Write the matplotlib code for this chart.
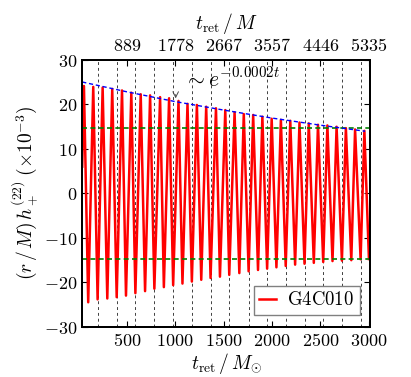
import matplotlib
matplotlib.use('Agg')
import matplotlib.pyplot as plt
from matplotlib.ticker import FixedLocator, FuncFormatter

plt.rcParams['mathtext.fontset'] = 'cm'
plt.rcParams['font.family'] = 'serif'
plt.rcParams['font.serif'] = ['DejaVu Serif']

# ---- data ----
start_t, start_h = 40, 6.0
peak_t = [58, 154, 251, 350, 451, 547, 644, 741, 844, 937, 1034, 1127, 1224, 1320,
          1421, 1517, 1613, 1708, 1805, 1900, 1996, 2091, 2188, 2283, 2379, 2474,
          2571, 2666, 2762, 2857, 2953]
peak_h = [24.1, 23.9, 23.75, 23.45, 23.1, 22.6, 22.25, 22.0, 21.6, 21.35, 20.75, 20.1,
          19.85, 19.45, 19.1, 18.7, 18.2, 17.8, 17.6, 17.2, 16.75, 16.5, 16.3, 15.9,
          15.7, 15.4, 15.25, 14.95, 14.65, 14.35, 14.05]
trough_t = [102, 199, 299, 396, 492, 589, 689, 785, 883, 979, 1075, 1172, 1269, 1365,
            1462, 1558, 1662, 1758, 1855, 1949, 2045, 2141, 2238, 2335, 2431, 2528,
            2624, 2721, 2818, 2914, 3000]
trough_h = [-24.45, -23.8, -23.6, -23.3, -22.95, -22.4, -21.95, -21.4, -21.05, -20.6,
            -20.25, -19.8, -19.4, -19.0, -18.7, -18.3, -17.9, -17.5, -17.2, -16.9, -16.6,
            -16.3, -16.0, -15.8, -15.6, -15.4, -15.2, -15.1, -15.0, -14.8, -14.75]
fit_t = [40, 500, 1000, 1500, 2000, 2500, 2960]
fit_h = [25.0, 22.8, 20.6, 18.7, 16.9, 15.3, 13.95]
band_h = [14.75, -14.75]
vline_t = [199, 396, 589, 785, 979, 1172, 1365, 1558, 1758, 1949, 2141, 2335, 2528,
           2721, 2914]
bottom_ticks = [500, 1000, 1500, 2000, 2500, 3000]
top_labels = ['889', '1778', '2667', '3557', '4446', '5335']
y_ticks = [-30, -20, -10, 0, 10, 20, 30]
legend_label = 'G4C010'
annot_text = r'$\sim e^{-0.0002t}$'
arrow_t = 1005

# build the wave from alternating extrema
wt = [start_t]
wh = [start_h]
for i in range(len(peak_t)):
    wt.append(peak_t[i]); wh.append(peak_h[i])
    if i < len(trough_t):
        wt.append(trough_t[i]); wh.append(trough_h[i])

fig = plt.figure(figsize=(4.11, 3.77), dpi=100)
ax = fig.add_axes([0.2, 0.1326, 0.7, 0.709])

for v in vline_t:
    ax.axvline(v, color='0.25', lw=0.7, ls=(0, (3, 3)), zorder=1)
ax.plot(wt, wh, color='red', lw=1.8, zorder=3, label=legend_label)
for b in band_h:
    ax.axhline(b, color='green', lw=1.2, ls=(0, (3, 2)), zorder=4)
ax.plot(fit_t, fit_h, color='blue', lw=1.0, ls=(0, (3, 2)), zorder=4)

ax.annotate('', xy=(arrow_t, 20.7), xytext=(arrow_t, 22.8),
            arrowprops=dict(arrowstyle='->', color='0.3', lw=0.7), zorder=5)
ax.text(1090, 24.0, annot_text, fontsize=15.5, ha='left', va='baseline')

ax.set_xlim(40, 3010)
ax.set_ylim(-30, 30)
ax.xaxis.set_major_locator(FixedLocator(bottom_ticks))
ax.yaxis.set_major_locator(FixedLocator(y_ticks))
fmt = FuncFormatter(lambda v, p: r'$%d$' % v)
ax.xaxis.set_major_formatter(fmt)
ax.yaxis.set_major_formatter(fmt)
ax.tick_params(direction='in', length=4, width=0.8, labelsize=13, right=True, top=False)
for s in ax.spines.values():
    s.set_linewidth(1.4)

ax2 = ax.twiny()
ax2.set_xlim(ax.get_xlim())
ax2.xaxis.set_major_locator(FixedLocator(bottom_ticks))
ax2.set_xticklabels([r'$%s$' % s for s in top_labels])
ax2.tick_params(direction='in', length=4, width=0.8, labelsize=13)
for s in ax2.spines.values():
    s.set_linewidth(1.4)

ax.set_xlabel(r'$t_{\rm ret}\,/\,M_{\odot}$', fontsize=14, labelpad=1)
ax2.set_xlabel(r'$t_{\rm ret}\,/\,M$', fontsize=14, labelpad=6)
ax.set_ylabel(r'$(r\,/\,M)\,h_+^{(22)}\;(\times 10^{-3})$', fontsize=14, labelpad=2)

leg = ax.legend(loc='lower right', bbox_to_anchor=(0.966, 0.045), fancybox=False,
                edgecolor='0.5', framealpha=1, handlelength=0.9,
                handletextpad=0.6, borderpad=0.3, borderaxespad=0.0,
                prop={'family': 'serif', 'size': 13.5})
leg.get_texts()[0].set_text(r'$\mathrm{G4C010}$')
leg.get_frame().set_linewidth(1.0)

fig.savefig('out.png', dpi=100)
